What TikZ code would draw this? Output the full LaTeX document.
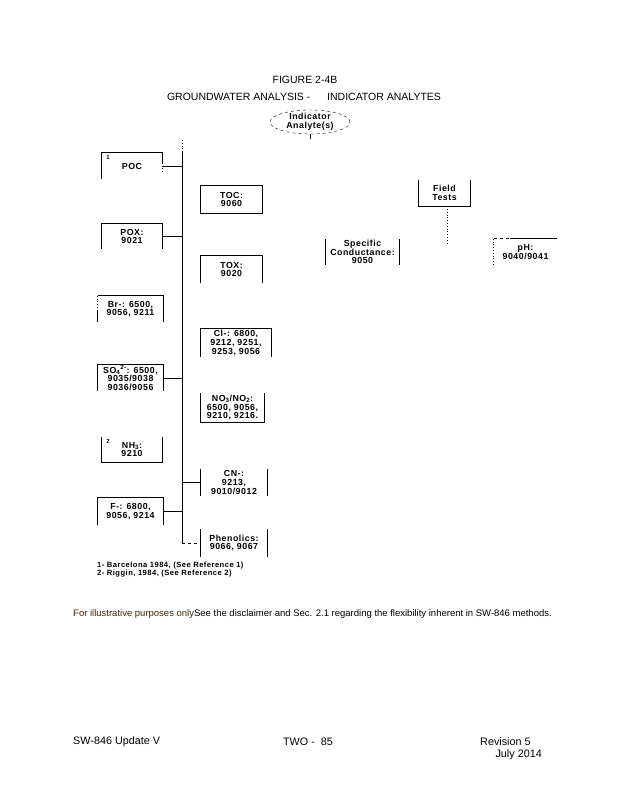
\documentclass[tikz,border=0pt]{standalone}
\usepackage{fontspec}
\setmainfont{Liberation Sans}
\newfontfamily\boxfont[LetterSpace=6]{Liberation Sans}
\usetikzlibrary{shapes.geometric}
\definecolor{discl}{RGB}{70,35,0}
\begin{document}
\begin{tikzpicture}[x=1pt,y=-1pt,
  bx/.style={inner sep=0pt,align=center,font=\boxfont\bfseries\fontsize{8.8}{8.6}\selectfont},
  brd/.style={line width=0.8pt},
  conn/.style={line width=0.8pt},
  lab/.style={inner sep=0pt,font=\boxfont\bfseries\fontsize{6}{6}\selectfont}]
\useasboundingbox (0,0) rectangle (618,800);
\fill[white] (0,0) rectangle (618,800);
% titles
\node[inner sep=0pt,font=\fontsize{10.5}{12}\selectfont] (t1) at (305,80) {FIGURE 2-4B};
\node[inner sep=0pt,font=\fontsize{10.5}{12}\selectfont] (t2) at (304,97) {GROUNDWATER ANALYSIS -\hspace{1.6em}INDICATOR ANALYTES};
% ellipse
\node[draw,dashed,ellipse,minimum width=80pt,minimum height=24pt,inner sep=0pt,align=center,font=\boxfont\bfseries\fontsize{8.8}{8.6}\selectfont] (ind) at (310,122) {Indicator\\Analyte(s)};
\coordinate (indstub) at (310,139);
\draw[conn] (ind.south) -- (indstub);
% trunk
\coordinate (trtop) at (182,140);
\coordinate (trmid) at (182,151);
\coordinate (trbot) at (182,543);
\draw[conn,dotted] (trtop) -- (trmid);
\draw[conn] (trmid) -- (trbot);
% left boxes
\node[bx,minimum width=60pt,minimum height=26pt] (poc) at (132,166) {POC};
\node[lab] (n1) at (108,157) {1};
\node[bx,minimum width=60pt,minimum height=25pt] (pox) at (132,236.5) {POX:\\9021};
\node[bx,minimum width=65pt,minimum height=26pt] (br) at (130.5,309) {Br-: 6500,\\9056, 9211};
\node[bx,minimum width=65pt,minimum height=26pt] (so4) at (130.5,378) {SO\textsubscript{4}\textsuperscript{2-}: 6500,\\9035/9038\\9036/9056};
\node[bx,minimum width=60pt,minimum height=25pt] (nh3) at (132,449.5) {NH\textsubscript{3}:\\9210};
\node[lab] (n2) at (108,441) {2};
\node[bx,minimum width=65pt,minimum height=27pt] (fl) at (130.5,511.5) {F-: 6800,\\9056, 9214};
% right boxes
\node[bx,minimum width=61pt,minimum height=27pt] (toc) at (231.5,199.5) {TOC:\\9060};
\node[bx,minimum width=61pt,minimum height=27pt] (tox) at (231.5,269.5) {TOX:\\9020};
\node[bx,minimum width=70pt,minimum height=28pt] (cl) at (236,343) {Cl-: 6800,\\9212, 9251,\\9253, 9056};
\node[bx,minimum width=63pt,minimum height=29pt] (no3) at (232.5,407.5) {NO\textsubscript{3}/NO\textsubscript{2}:\\6500, 9056,\\9210, 9216.};
\node[bx,minimum width=66pt,minimum height=27pt] (cn) at (234,482.5) {CN-:\\9213,\\9010/9012};
\node[bx,minimum width=66pt,minimum height=28pt] (phe) at (234,543) {Phenolics:\\9066, 9067};
% field group
\node[bx,minimum width=51pt,minimum height=26pt] (fld) at (444.5,193) {Field\\Tests};
\node[bx,minimum width=73pt,minimum height=26pt] (spc) at (362.5,252) {Specific\\Conductance:\\9050};
\node[bx,minimum width=63pt,minimum height=26pt] (ph) at (525.5,252) {pH:\\9040/9041};
\coordinate (fldend) at (447,244);
% borders
\draw[brd] (poc.south west) -- (poc.north west) -- (poc.north east) -- ([yshift=-10pt]poc.north east);
\draw[brd,dotted] ([yshift=-10pt]poc.north east) -- ([yshift=-20pt]poc.north east);
\draw[brd] (pox.south west) -- (pox.north west) -- (pox.north east) -- (pox.south east);
\draw[brd] ([yshift=-14pt]br.north west) -- (br.south west);
\draw[brd,dotted] (br.north west) -- ([yshift=-14pt]br.north west);
\draw[brd] (br.north west) -- (br.north east) -- (br.south east);
\draw[brd] (so4.south west) -- (so4.north west) -- (so4.north east) -- (so4.south east);
\draw[brd] (nh3.north west) -- (nh3.south west) -- (nh3.south east) -- (nh3.north east);
\draw[brd] (fl.south west) -- (fl.north west) -- (fl.north east) -- (fl.south east);
\draw[brd] (toc.north west) rectangle (toc.south east);
\draw[brd] (tox.south west) -- (tox.north west) -- (tox.north east) -- (tox.south east);
\draw[brd] (cl.south west) -- (cl.north west) -- (cl.north east) -- (cl.south east);
\draw[brd] (no3.north west) -- (no3.south west) -- (no3.south east) -- (no3.north east);
\draw[brd] (cn.north west) -- (cn.south west);
\draw[brd] (cn.north east) -- (cn.south east);
\draw[brd] (phe.north west) -- (phe.south west);
\draw[brd] (phe.north east) -- (phe.south east);
\draw[brd] (fld.north west) -- (fld.south west) -- (fld.south east) -- (fld.north east);
\draw[brd] (spc.north west) -- (spc.south west);
\draw[brd] (spc.north east) -- (spc.south east);
\draw[brd,dotted] (ph.north west) -- (ph.south west);
\draw[brd,dashed] (ph.north west) -- ([xshift=16pt]ph.north west);
\draw[brd] ([xshift=16pt]ph.north west) -- (ph.north east);
% connectors
\draw[conn] (poc.east) -- (poc.east -| trtop);
\draw[conn] (pox.east) -- (pox.east -| trtop);
\draw[conn] (so4.east) -- (so4.east -| trtop);
\draw[conn] (fl.east) -- (fl.east -| trtop);
\draw[conn] (cn.west) -- (cn.west -| trtop);
\draw[conn,dashed] (trbot) -- (phe.west);
\draw[conn,dotted] (fld.south -| fldend) -- (fldend);
% footnotes
\node[anchor=west,inner sep=0pt,align=left,font=\boxfont\bfseries\fontsize{7.6}{8}\selectfont] (fn) at (97,570) {1- Barcelona 1984, (See Reference 1)\\2- Riggin, 1984, (See Reference 2)};
% disclaimer
\node[anchor=west,inner sep=0pt,font=\fontsize{9.5}{10}\selectfont] (dis) at (73,614) {\textcolor{discl}{For illustrative purposes only}See the disclaimer and Sec. 2.1 regarding the flexibility inherent in SW-846 methods.};
% footer
\node[anchor=west,inner sep=0pt,font=\fontsize{10.8}{12}\selectfont] (f1) at (73,742) {SW-846 Update V};
\node[inner sep=0pt,font=\fontsize{10.8}{12}\selectfont] (f2) at (308,742) {TWO -\ \ 85};
\node[anchor=west,inner sep=0pt,font=\fontsize{10.8}{12}\selectfont] (f3) at (480,742) {Revision 5};
\node[anchor=east,inner sep=0pt,font=\fontsize{10.8}{12}\selectfont] (f4) at (542,755) {July 2014};
\end{tikzpicture}
\end{document}
